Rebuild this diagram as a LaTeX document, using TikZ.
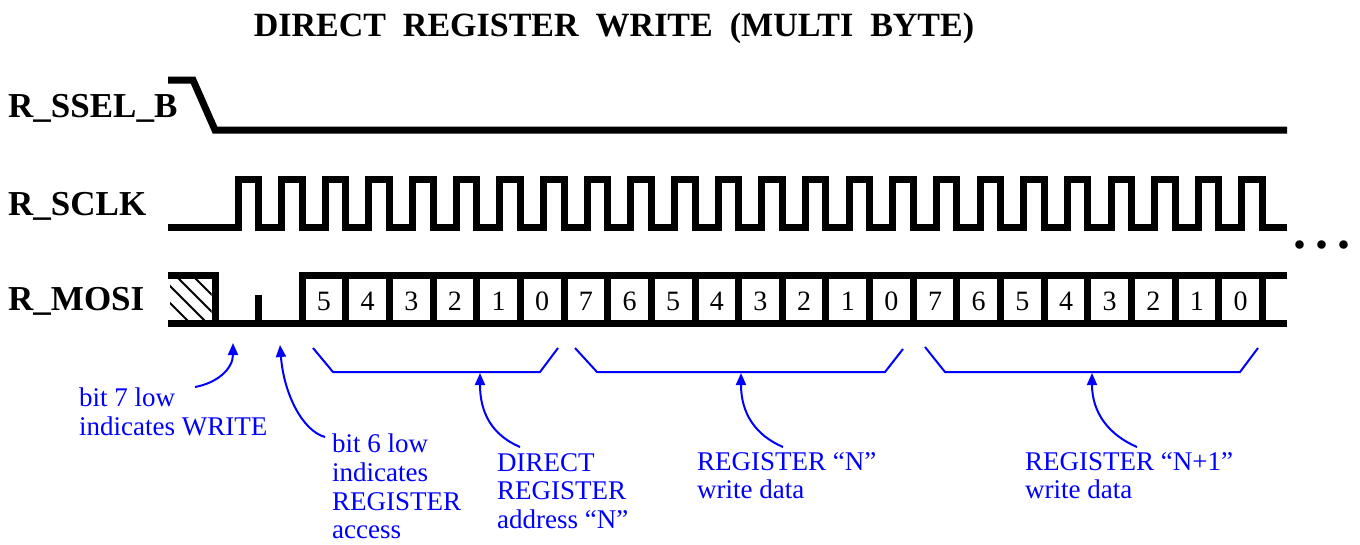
\documentclass[tikz,border=0pt]{standalone}
\usepackage{fontspec}
\setmainfont{Liberation Serif}
\usepackage{tikz}
\usetikzlibrary{arrows.meta,calc}
\definecolor{noteBlue}{RGB}{0,0,255}

\begin{document}
\begin{tikzpicture}[x=1pt,y=-1pt,
    signal/.style={line width=7pt,line join=miter,black},
    hatch/.style={line width=1.8pt},
    bracket/.style={noteBlue,line width=2pt},
    arrow/.style={noteBlue,line width=2pt,-{Triangle[length=12pt,width=10pt]}},
    siglabel/.style={anchor=base west,inner sep=0pt,font=\bfseries\fontsize{35pt}{38pt}\selectfont},
    note/.style={anchor=north west,inner sep=0pt,align=left,text=noteBlue,font=\fontsize{27pt}{28.6pt}\selectfont},
    bitnum/.style={inner sep=0pt,font=\fontsize{28pt}{30pt}\selectfont}
  ]
    \useasboundingbox (0,0) rectangle (1360,544);
    \node[anchor=base,inner sep=0pt,font=\bfseries\fontsize{34pt}{38pt}\selectfont] (title) at (614,36) {DIRECT~ REGISTER~ WRITE~ (MULTI~ BYTE)};
    \node[siglabel] (ssel) at (8,117) {R\_SSEL\_B};
    \node[siglabel] (sclk) at (8,215) {R\_SCLK};
    \node[siglabel] (mosi) at (8,310) {R\_MOSI};
    % chip select
    \draw[signal] (168,80) -- (193,80) -- (215,130) -- (1287,130);
    % serial clock
    \draw[signal] (168,227) foreach \k in {0,...,23} {
      -- ({238+\k*43.65},227) -- ({238+\k*43.65},179)
      -- ({258.5+\k*43.65},179) -- ({258.5+\k*43.65},227)} -- (1287,227);
    \node[inner sep=0pt,font=\bfseries\fontsize{52pt}{54pt}\selectfont] (dots) at (1322,245) {.\hspace{9pt}.\hspace{9pt}.};
    % data in
    \begin{scope}
      \clip (170,278.5) rectangle (211.5,319.5);
      \foreach \c in {83,100,116,133}
        \draw[hatch] (150,150+\c) -- (240,240+\c);
    \end{scope}
    \draw[signal] (168,275) -- (215,275) -- (215,323);
    \draw[signal] (168,323) -- (1287,323);
    \draw[signal] (258,323) -- (258,295);
    \draw[signal] (302.15,323) -- (302.15,275) -- (1287,275);
    \foreach \k in {2,...,23}
      \draw[signal] ({258.5+\k*43.65},275) -- ({258.5+\k*43.65},323);
    \foreach \b [count=\j] in {5,4,3,2,1,0,7,6,5,4,3,2,1,0,7,6,5,4,3,2,1,0}
      \node[bitnum] (bit\j) at ({258.5+(\j+0.5)*43.65},301) {\b};
    % brackets under the bytes
    \draw[bracket] (313,348) -- (333,372) -- (540,372) -- (558,348);
    \draw[bracket] (575,348) -- (597,372) -- (885,372) -- (903,349);
    \draw[bracket] (925,347) -- (945,372) -- (1240,372) -- (1258,348);
    \coordinate (w7) at (233,343);
    \coordinate (r6) at (280,345);
    \coordinate (addrN) at (480,373);
    \coordinate (dataN) at (741,373);
    \coordinate (dataNone) at (1092,373);
    % notes
    \node[note] (bit7) at (79,388) {bit 7 low\\indicates WRITE};
    \node[note] (bit6) at (332,434) {bit 6 low\\indicates\\REGISTER\\access};
    \node[note] (diraddr) at (497,453) {DIRECT\\REGISTER\\address “N”};
    \node[note] (regN) at (697,452) {REGISTER “N”\\write data};
    \node[note] (regNone) at (1025,452) {REGISTER “N+1”\\write data};
    \draw[arrow] ($(bit7.north west)+(116,-1)$) .. controls +(22,-4) and +(0,26) .. (w7);
    \draw[arrow] ($(bit6.north west)+(-7,3)$) .. controls +(-22,-6) and +(4,50) .. (r6);
    \draw[arrow] ($(diraddr.north west)+(23,-6)$) .. controls +(-28,-12) and +(0,40) .. (addrN);
    \draw[arrow] ($(regN.north west)+(86,-5)$) .. controls +(-28,-12) and +(0,40) .. (dataN);
    \draw[arrow] ($(regNone.north west)+(112,-5)$) .. controls +(-28,-12) and +(0,40) .. (dataNone);
  \end{tikzpicture}
\end{document}
